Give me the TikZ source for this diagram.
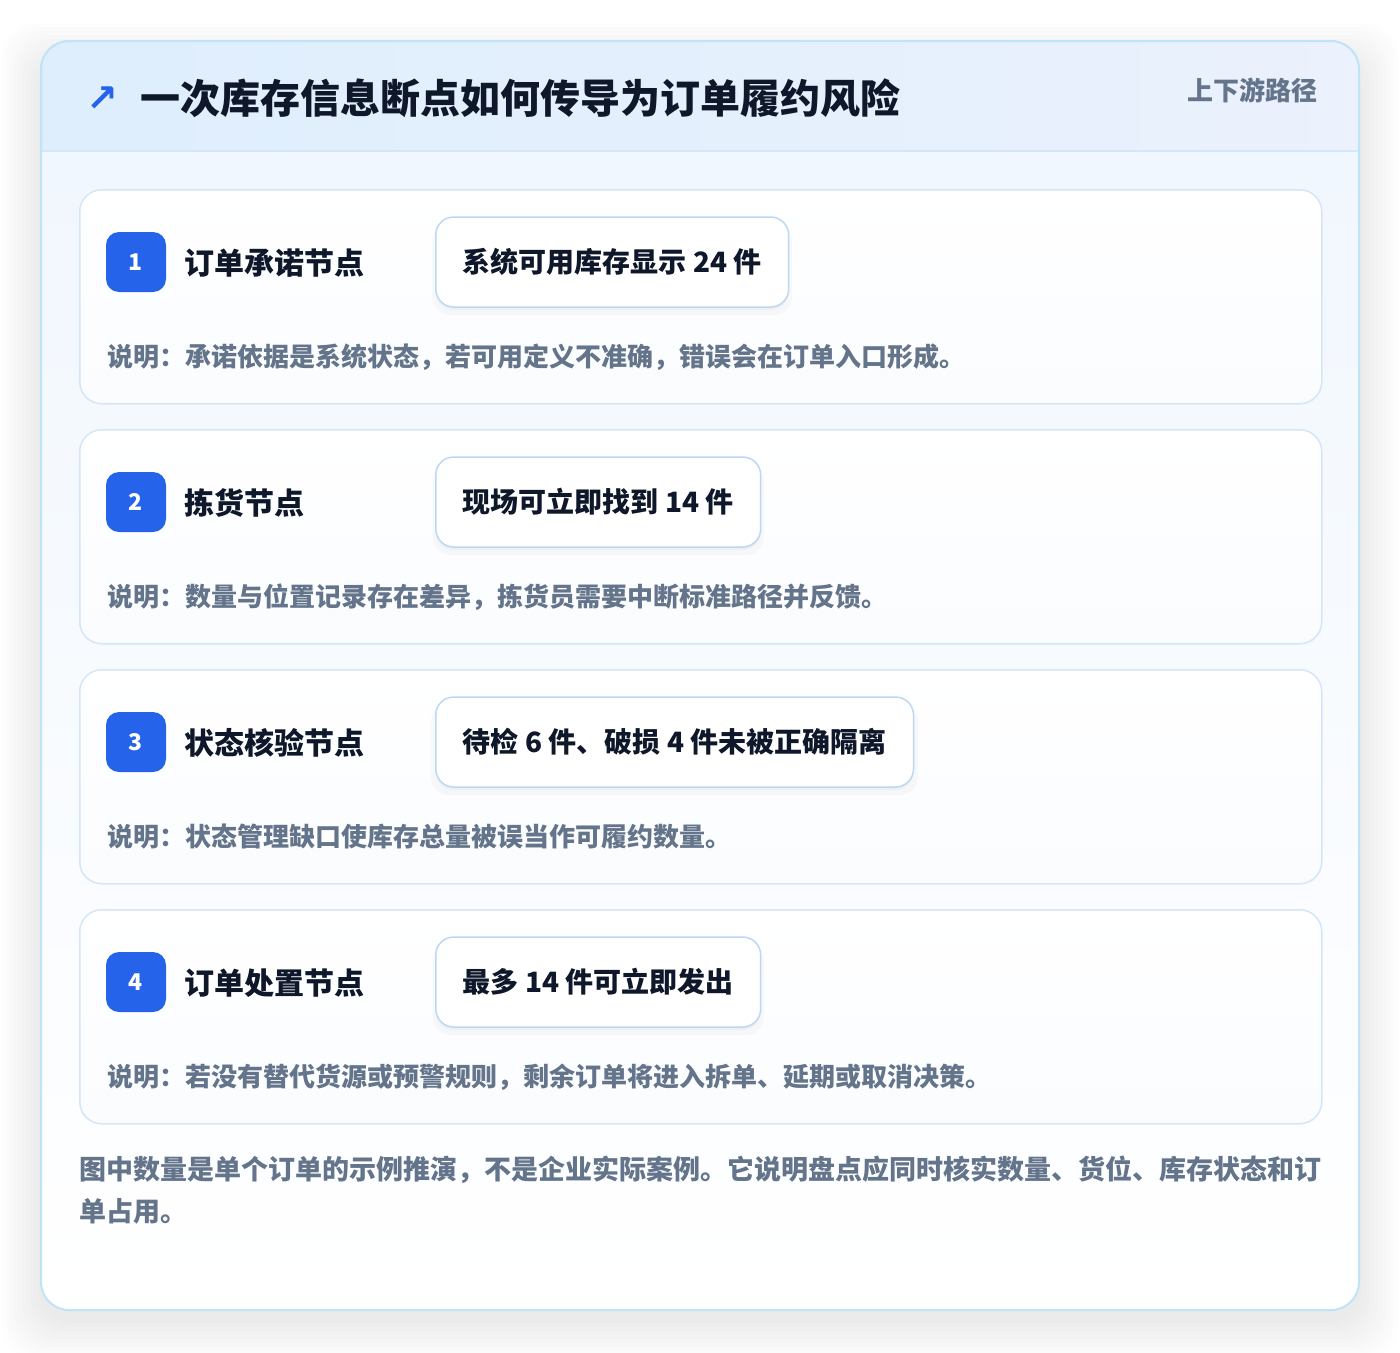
\documentclass[tikz,border=0pt]{standalone}
\usepackage{fontspec}
\newfontfamily\cjk{Noto Sans CJK SC}
\newfontfamily\sym{DejaVu Sans}
\usetikzlibrary{shadows}
\definecolor{ink}{HTML}{0F172A}
\definecolor{muted}{HTML}{64748B}
\definecolor{accent}{HTML}{2563EB}
\definecolor{cardborder}{HTML}{BFE3F7}
\definecolor{stepborder}{HTML}{D5E6F8}
\definecolor{valborder}{HTML}{BED7F3}
\definecolor{hdrL}{HTML}{DEEEFD}
\definecolor{hdrR}{HTML}{EBF1FD}
\definecolor{bodyT}{HTML}{F1F7FE}
\definecolor{bodyB}{HTML}{FFFFFF}
\definecolor{stepT}{HTML}{FFFFFF}
\definecolor{stepB}{HTML}{FAFCFE}
\tikzset{
  stepcard/.style={draw=stepborder, line width=1.5pt, rounded corners=22pt, top color=stepT, bottom color=stepB, minimum width=1242pt, minimum height=214pt, anchor=north west, inner sep=0pt},
  badge/.style={fill=accent, rounded corners=13pt, minimum width=60pt, minimum height=60pt, inner sep=0pt, text=white, font=\cjk\bfseries\fontsize{23}{26}\selectfont},
  steplabel/.style={anchor=west, inner sep=0pt, text=ink, font=\cjk\bfseries\fontsize{30}{34}\selectfont},
  valbox/.style={draw=valborder, line width=1.5pt, fill=white, rounded corners=18pt, anchor=west, minimum height=90pt, inner xsep=27pt, text=ink, font=\cjk\bfseries\fontsize{28}{34}\selectfont,
    drop shadow={opacity=0.025, shadow xshift=0pt, shadow yshift=-7pt, fill=black, shadow scale=1.02},
    drop shadow={opacity=0.03, shadow xshift=0pt, shadow yshift=-3pt, fill=black}},
  note/.style={anchor=west, inner sep=0pt, text=muted, font=\cjk\bfseries\fontsize{26}{30}\selectfont},
}
\begin{document}
\begin{tikzpicture}[x=1pt,y=-1pt]
\useasboundingbox (0,0) rectangle (1400,1352);
\fill[white] (0,0) rectangle (1400,1352);
% soft shadow of the card
\foreach \s in {3,7,...,39} {
  \fill[black,opacity=0.006,rounded corners=34pt] (41-\s,62-\s) rectangle (1359+\s,1320+\s);
}
% card
\begin{scope}
\clip[rounded corners=28pt] (41,41) rectangle (1359,1310);
\fill[top color=bodyT, bottom color=bodyB] (41,151) rectangle (1359,1310);
\fill[left color=hdrL, right color=hdrR] (41,41) rectangle (1359,151);
\draw[stepborder, line width=1.5pt] (41,151) -- (1359,151);
\end{scope}
\draw[cardborder, line width=2pt, rounded corners=28pt] (41,41) rectangle (1359,1310);
% header
\node[anchor=center, inner sep=0pt, text=accent, font=\sym\bfseries\fontsize{38}{40}\selectfont] (icon) at (102,99) {↗};
\node[anchor=west, inner sep=0pt, text=ink, font=\cjk\bfseries\fontsize{40}{44}\selectfont] (title) at (140,98) {一次库存信息断点如何传导为订单履约风险};
\node[anchor=east, inner sep=0pt, text=muted, font=\cjk\bfseries\fontsize{26}{30}\selectfont] (tag) at (1318,90) {上下游路径};
% steps
\foreach \i/\y/\lab/\val/\desc in {
 1/189/订单承诺节点/系统可用库存显示 24 件/说明：承诺依据是系统状态，若可用定义不准确，错误会在订单入口形成。,
 2/429/拣货节点/现场可立即找到 14 件/说明：数量与位置记录存在差异，拣货员需要中断标准路径并反馈。,
 3/669/状态核验节点/待检 6 件、破损 4 件未被正确隔离/说明：状态管理缺口使库存总量被误当作可履约数量。,
 4/909/订单处置节点/最多 14 件可立即发出/说明：若没有替代货源或预警规则，剩余订单将进入拆单、延期或取消决策。} {
  \node[stepcard] (card\i) at (79,\y) {};
  \node[badge] (badge\i) at (136,\y+73) {\i};
  \node[steplabel] (label\i) at (184,\y+74) {\lab};
  \node[valbox] (val\i) at (435,\y+73) {\val};
  \node[note] (note\i) at (107,\y+168) {\desc};
}
% footer
\node[anchor=north west, inner sep=0pt, align=left, text=muted, font=\cjk\bfseries\fontsize{27}{42}\selectfont] (foot) at (79,1156) {图中数量是单个订单的示例推演，不是企业实际案例。它说明盘点应同时核实数量、货位、库存状态和订\\单占用。};
\end{tikzpicture}
\end{document}
